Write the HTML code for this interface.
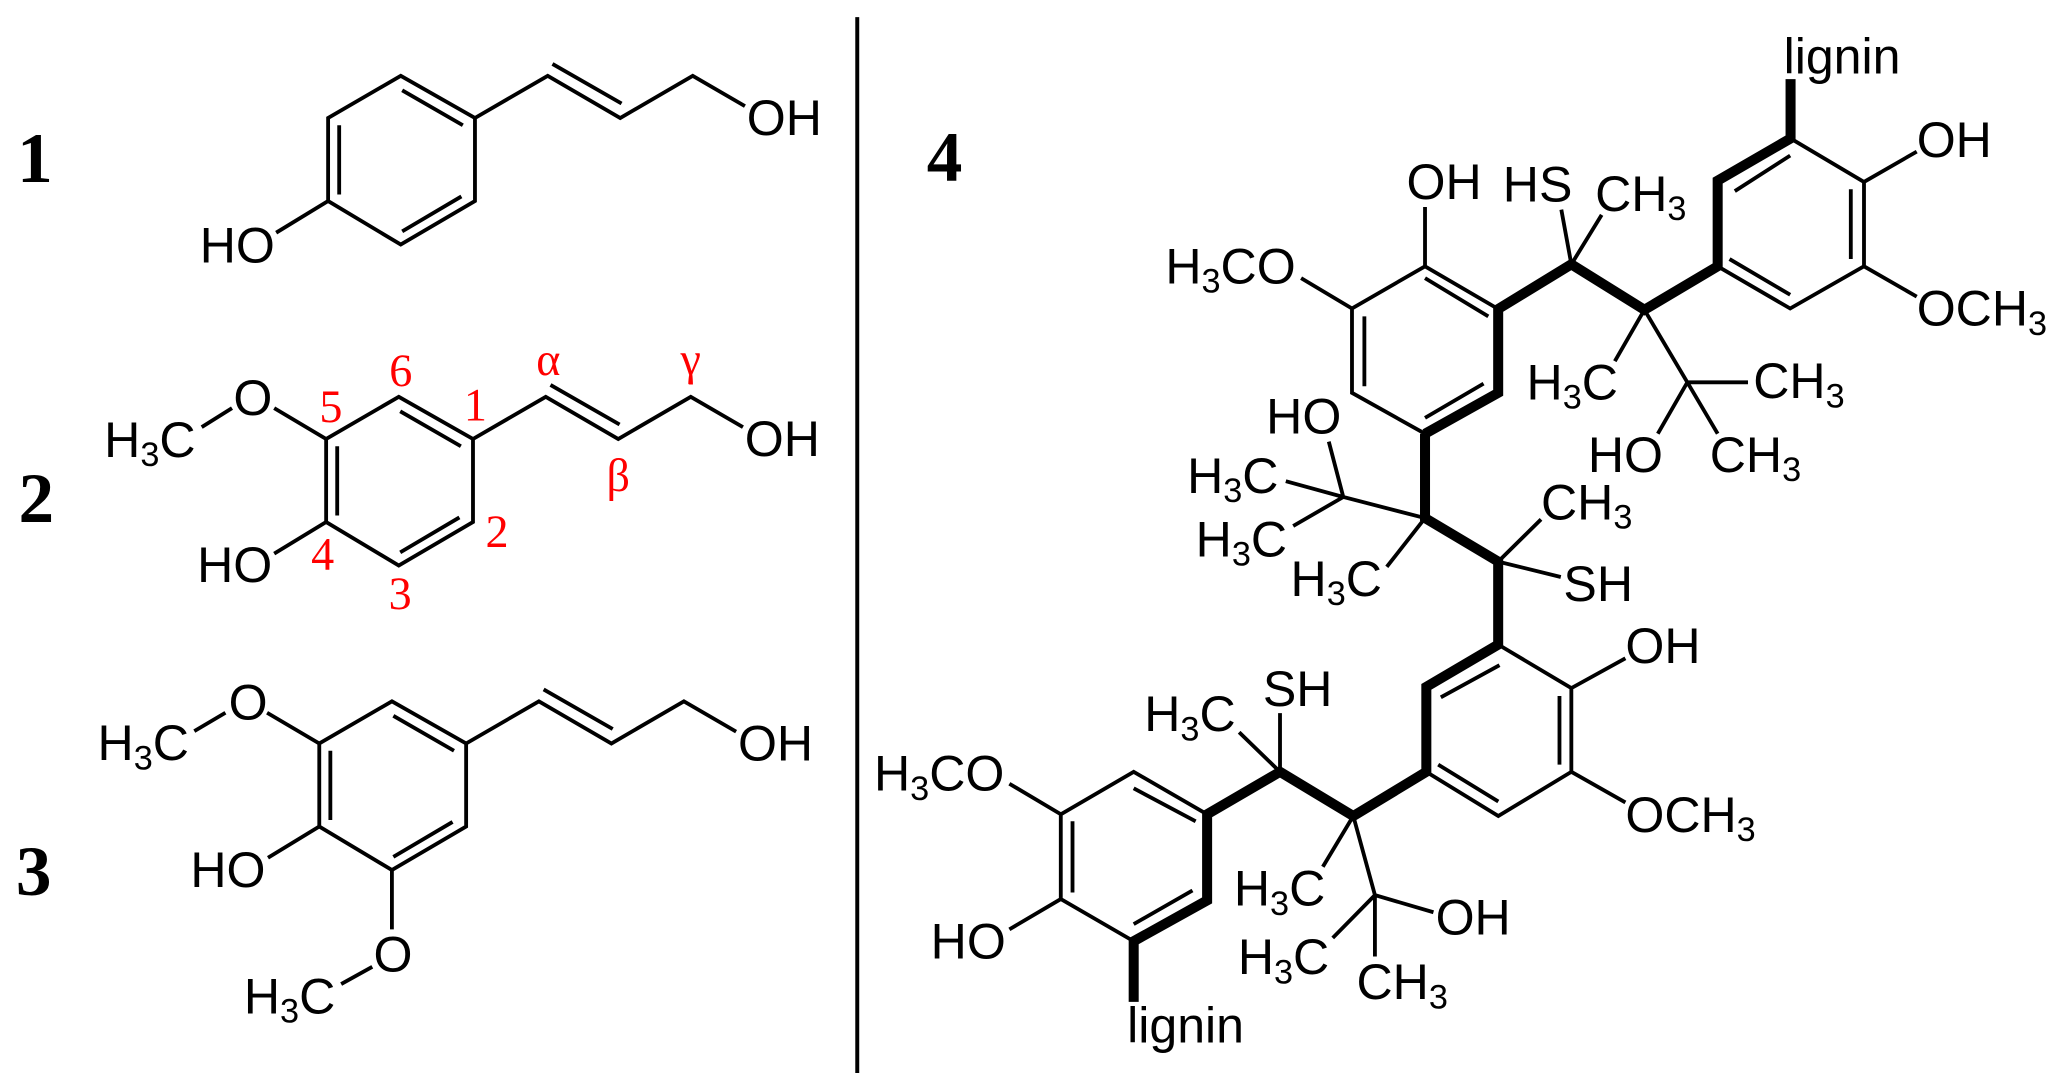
<!DOCTYPE html>
<html>
<head>
<meta charset="utf-8">
<style>
html,body{margin:0;padding:0;background:#fff;width:2067px;height:1091px;overflow:hidden}
svg{display:block}
text{font-family:"Liberation Sans",sans-serif;font-size:38px;fill:#000}
.s{font-size:26px}
.n{font-family:"Liberation Serif",serif;font-weight:bold;font-size:54px}
.r{font-family:"Liberation Serif","DejaVu Serif",serif;font-size:35px;fill:#f00;text-anchor:middle}
.t{fill:none;stroke:#000;stroke-width:2.9}
.b{fill:none;stroke:#000;stroke-width:7.6}
</style>
</head>
<body>
<svg width="2067" height="1091" viewBox="0 0 1568 827.6" xmlns="http://www.w3.org/2000/svg">
<rect x="0" y="0" width="1568" height="828" fill="#fff"/>
<line x1="650.3" y1="13" x2="650.3" y2="814" stroke="#000" stroke-width="3"/>

<text class="n" x="13" y="138">1</text>
<text class="n" x="14" y="396">2</text>
<text class="n" x="12" y="679">3</text>
<text class="n" x="703" y="137">4</text>

<defs>
<g id="sk">
<path class="t" d="M302.5 301L358.8 333V396L302.5 429L247.4 396V333ZM358.8 333L414 301L469 333L524 301L563.6 324"/>
<path class="t" d="M303.6 312L349.6 338.5M255.8 338.5V391M303.6 419L348.5 392.5M417.6 292L470 322"/>
<text x="565" y="346">OH</text>
</g>
</defs>

<!-- 1 -->
<g transform="translate(1.5,-243.5)"><use href="#sk"/>
<path class="t" d="M247.4 396L208 420"/>
<text x="150" y="442.5">HO</text></g>

<!-- 2 -->
<use href="#sk"/>
<path class="t" d="M247.4 333L208 309.6M176 309.6L153 324M247.4 396L208 420"/>
<text x="177" y="315">O</text>
<text x="79" y="346.5">H<tspan class="s" dy="7">3</tspan><tspan dy="-7">C</tspan></text>
<text x="149.5" y="441.6">HO</text>
<text class="r" x="304" y="293">6</text>
<text class="r" x="251" y="320">5</text>
<text class="r" x="360.6" y="319">1</text>
<text class="r" x="416" y="284.4">α</text>
<text class="r" x="524" y="284">γ</text>
<text class="r" x="469" y="372.4">β</text>
<text class="r" x="377" y="415">2</text>
<text class="r" x="303.6" y="462">3</text>
<text class="r" x="244.8" y="432">4</text>

<!-- 3 -->
<g transform="translate(-5.2,231)"><use href="#sk"/></g>
<path class="t" d="M242.2 564L202.6 540.7M171 540.7L147.4 554.6M242.2 627L203.3 650.7M297.3 660V705M282.4 733.4L258.8 746.5"/>
<text x="173.4" y="545.7">O</text>
<text x="74" y="576.6">H<tspan class="s" dy="7">3</tspan><tspan dy="-7">C</tspan></text>
<text x="144.4" y="672.7">HO</text>
<text x="283.3" y="737">O</text>
<text x="185" y="768.8">H<tspan class="s" dy="7">3</tspan><tspan dy="-7">C</tspan></text>

<!-- 4 thin skeleton -->
<path class="t" d="M1136.5 234.4L1081 202L1025.6 234V298L1081 329M1081 202V157M1025.6 234L987 211"/>
<path class="t" d="M1081 211L1129 240M1035 240V293M1081 317L1125.4 291"/>
<path class="t" d="M1358.3 105L1414 138V202L1358 234L1303 202M1414 138L1454 115M1414 202L1454 225"/>
<path class="t" d="M1404 143.6V196.5M1316 145L1358 118M1312 196.5L1358 223.6"/>
<path class="t" d="M1192 200.5L1184.4 159M1192 200.5L1215 163M1247.4 235L1225 274M1247.4 235L1280 290L1326 290M1280 290L1257.6 329M1280 290L1303 329"/>
<path class="t" d="M1081 393L1019 377L1008 335M1019 377L975.4 365M1019 377L981 399M1136.5 426L1169 394M1136.5 426L1184 437.7"/>
<path class="t" d="M1136.6 489L1192 522V585.5L1136.6 619L1082 585.5M1192 522L1233 499.4M1192 585.5L1233 608.7"/>
<path class="t" d="M1183 528V580M1093 529L1137.5 504.6M1091 580L1136.6 608"/>
<path class="t" d="M915.7 617.7L860 585.5L804.7 617.7V682L860 714M804.7 617.7L765.7 594.5M804.7 682L765.7 705"/>
<path class="t" d="M860 598L907 623M813.6 623V677M860 701L904.6 675.5"/>
<path class="t" d="M971 585.5V541M971 585.5L940 555.5M1026.6 619L1003.5 657.5M1026.6 619L1043 679L1087.4 692M1043 679L1011 711.5M1043 679V725.6M1081 393L1052 430"/>

<!-- 4 thick bonds -->
<path class="b" d="M1081 329L1136.5 298V234.4L1192 200.5L1247.4 235L1303 202V137L1358.3 105V60"/>
<path class="b" d="M1081 329V393L1136.5 426V489L1082 521V585.5L1026.6 619L971 585.5L915.7 617.7V683L860 714V760"/>

<!-- 4 labels -->
<text x="1353" y="55.6">lignin</text>
<text x="1454" y="119">OH</text>
<text x="1454" y="247">OCH<tspan class="s" dy="7">3</tspan></text>
<text x="1067" y="151">OH</text>
<text x="1140" y="153">HS</text>
<text x="1210" y="160">CH<tspan class="s" dy="7">3</tspan></text>
<text x="884" y="215">H<tspan class="s" dy="7">3</tspan><tspan dy="-7">CO</tspan></text>
<text x="1158" y="303">H<tspan class="s" dy="7">3</tspan><tspan dy="-7">C</tspan></text>
<text x="1330" y="302">CH<tspan class="s" dy="7">3</tspan></text>
<text x="1204.5" y="358">HO</text>
<text x="1297" y="358">CH<tspan class="s" dy="7">3</tspan></text>
<text x="960.5" y="329">HO</text>
<text x="900.5" y="374">H<tspan class="s" dy="7">3</tspan><tspan dy="-7">C</tspan></text>
<text x="907" y="422">H<tspan class="s" dy="7">3</tspan><tspan dy="-7">C</tspan></text>
<text x="1169" y="394">CH<tspan class="s" dy="7">3</tspan></text>
<text x="979" y="452">H<tspan class="s" dy="7">3</tspan><tspan dy="-7">C</tspan></text>
<text x="1186" y="456">SH</text>
<text x="1233" y="503">OH</text>
<text x="1233" y="631">OCH<tspan class="s" dy="7">3</tspan></text>
<text x="958" y="535.4">SH</text>
<text x="868" y="554.7">H<tspan class="s" dy="7">3</tspan><tspan dy="-7">C</tspan></text>
<text x="663" y="599.7">H<tspan class="s" dy="7">3</tspan><tspan dy="-7">CO</tspan></text>
<text x="936" y="687">H<tspan class="s" dy="7">3</tspan><tspan dy="-7">C</tspan></text>
<text x="1089" y="709">OH</text>
<text x="939" y="739">H<tspan class="s" dy="7">3</tspan><tspan dy="-7">C</tspan></text>
<text x="1029" y="758">CH<tspan class="s" dy="7">3</tspan></text>
<text x="706" y="727">HO</text>
<text x="855" y="791">lignin</text>
</svg>
</body>
</html>
